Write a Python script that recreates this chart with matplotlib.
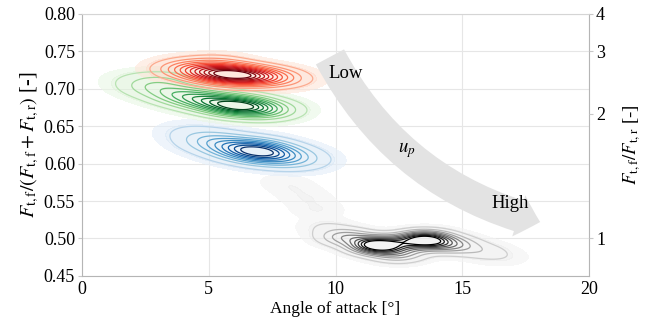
import numpy as np
import matplotlib
matplotlib.use("Agg")
import matplotlib.pyplot as plt
from matplotlib.patches import FancyArrowPatch

plt.rcParams['font.family'] = ['Liberation Serif', 'DejaVu Serif']
plt.rcParams['mathtext.fontset'] = 'stix'
plt.rcParams['font.size'] = 12

# ---- data: hand-read density centres (x = angle of attack, y = force ratio, w = weight)
red_x = [6.2, 5.2, 4.1, 7.3, 5.3, 8.2]
red_y = [0.718, 0.721, 0.727, 0.715, 0.734, 0.712]
red_w = [1.0, 0.7, 0.35, 0.45, 0.15, 0.08]

green_x = [6.2, 5.0, 3.9, 2.8, 7.3, 3.3, 2.1]
green_y = [0.677, 0.684, 0.692, 0.702, 0.671, 0.713, 0.713]
green_w = [1.0, 0.6, 0.4, 0.22, 0.4, 0.1, 0.06]

blue_x = [7.0, 6.0, 5.0, 8.0, 8.9, 4.1]
blue_y = [0.616, 0.622, 0.631, 0.609, 0.603, 0.643]
blue_w = [1.0, 0.55, 0.3, 0.45, 0.1, 0.07]

grey_x = [11.7, 13.5, 10.4, 14.6, 15.8, 12.5, 9.6, 7.9, 8.4, 8.9, 9.3, 16.6]
grey_y = [0.491, 0.498, 0.502, 0.491, 0.483, 0.479, 0.516, 0.577, 0.566, 0.553, 0.538, 0.474]
grey_w = [1.0, 0.95, 0.3, 0.3, 0.1, 0.25, 0.06, 0.03, 0.035, 0.04, 0.045, 0.04]

x_ticks = [0, 5, 10, 15, 20]
y_ticks = [0.45, 0.50, 0.55, 0.60, 0.65, 0.70, 0.75, 0.80]
ratio_ticks = [1, 2, 3, 4]

# (x, y, w, colormap, x bandwidth, y bandwidth, number of lines, top level)
clusters = [
    (grey_x, grey_y, grey_w, 'Greys', 0.7, 0.0075, 9, 0.74),
    (blue_x, blue_y, blue_w, 'Blues', 0.8, 0.0095, 9, 0.86),
    (green_x, green_y, green_w, 'Greens', 0.85, 0.0085, 10, 0.86),
    (red_x, red_y, red_w, 'Reds', 0.85, 0.0085, 12, 0.86),
]

fig = plt.figure(figsize=(6.56, 3.32), dpi=100)
ax = fig.add_axes([0.125, 0.169, 0.773, 0.789])
ax.set_xlim(0, 20)
ax.set_ylim(0.45, 0.80)

gx = np.linspace(0, 20, 500)
gy = np.linspace(0.45, 0.80, 500)
GX, GY = np.meshgrid(gx, gy)

dens = []
for xs, ys, ws, cm, bx, by, n, top in clusters:
    Z = np.zeros_like(GX)
    for x0, y0, w0 in zip(xs, ys, ws):
        Z += w0 * np.exp(-0.5 * ((GX - x0) / bx) ** 2 - 0.5 * ((GY - y0) / by) ** 2)
    Z /= Z.max()
    dens.append((Z, plt.get_cmap(cm), n, top))

for Z, cmap, n, top in dens:
    ax.contourf(GX, GY, Z, levels=[0.015, 0.045, 1.01],
                colors=[cmap(0.10), cmap(0.15)], alpha=0.6, zorder=2)

arrow = FancyArrowPatch((9.78, 0.7426), (18.07, 0.522),
                        connectionstyle='arc3,rad=0.22',
                        arrowstyle='simple,head_length=1.6,head_width=3.1,tail_width=2.3',
                        mutation_scale=10, color='#e3e3e3', lw=0, zorder=2.5,
                        shrinkA=0, shrinkB=0)
ax.add_patch(arrow)

for Z, cmap, n, top in dens:
    lv = np.linspace(0.06, top, n)
    ax.contour(GX, GY, Z, levels=lv, colors=[cmap(v) for v in np.linspace(0.3, 1.0, n)],
               linewidths=0.9, zorder=3)

ax.text(10.4, 0.721, 'Low', ha='center', va='center', fontsize=13.5, zorder=4)
ax.text(12.8, 0.618, r'$u_p$', ha='center', va='center', fontsize=13.5, zorder=4)
ax.text(16.9, 0.547, 'High', ha='center', va='center', fontsize=13.5, zorder=4)

ax.set_xticks(x_ticks)
ax.set_yticks(y_ticks)
ax.set_yticklabels([f'{v:.2f}' for v in y_ticks])
ax.grid(True, color='#e6e6e6', lw=0.8, zorder=0)
ax.set_axisbelow(True)
for s in ['left', 'right', 'bottom']:
    ax.spines[s].set_color('#b5b5b5')
ax.spines['top'].set_color('#d5d5d5')
ax.tick_params(axis='both', color='#c8c8c8', length=3, width=0.8, direction='out', pad=2,
               labelsize=13)
ax.tick_params(axis='y', right=True)
ax.tick_params(axis='x', length=0, pad=4)
ax.set_xlabel('Angle of attack [°]', labelpad=2, fontsize=12.5)
ax.set_ylabel(r'$F_{\mathrm{t,f}}/(F_{\mathrm{t,f}}+F_{\mathrm{t,r}})$ [-]', labelpad=2,
              fontsize=14.5)

ax2 = ax.twinx()
ax2.set_ylim(0.45, 0.80)
ax2.set_yticks([r / (1 + r) for r in ratio_ticks])
ax2.set_yticklabels([str(r) for r in ratio_ticks])
for s in ax2.spines.values():
    s.set_visible(False)
ax2.tick_params(axis='y', color='#c8c8c8', length=3, width=0.8, pad=2, labelsize=13)
ax2.set_ylabel(r'$F_{\mathrm{t,f}}/F_{\mathrm{t,r}}$ [-]', labelpad=12, fontsize=13.5)

fig.savefig('out.png', dpi=100)
